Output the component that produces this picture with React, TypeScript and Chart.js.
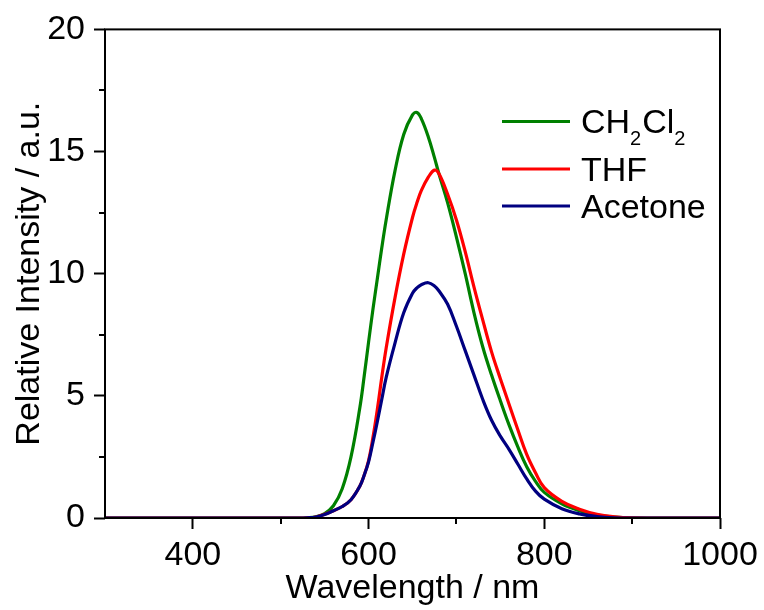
import React, { useEffect, useRef } from "react";
import { Chart, registerables } from "chart.js";

Chart.register(...registerables);

const wavelengths = [300, 400, 500, 520, 530, 540, 550, 560, 570, 580, 590, 595, 600, 605, 610, 615, 620, 630, 640, 650, 655, 660, 668, 675, 680, 690, 700, 710, 720, 730, 740, 750, 760, 770, 780, 790, 800, 820, 840, 860, 880, 900, 950, 1000];

const ch2cl2 = [0, 0, 0, 0, 0.01, 0.05, 0.18, 0.5, 1.2, 2.5, 4.5, 5.8, 7.2, 8.55, 9.8, 11.05, 12.2, 14.2, 15.7, 16.5, 16.6, 16.35, 15.6, 14.75, 14.1, 12.9, 11.5, 10.0, 8.4, 7.0, 5.85, 4.8, 3.8, 2.9, 2.1, 1.5, 1.05, 0.58, 0.3, 0.12, 0.04, 0.01, 0, 0];

const thf = [0, 0, 0, 0, 0.01, 0.04, 0.15, 0.3, 0.47, 0.75, 1.3, 1.75, 2.35, 3.3, 4.45, 5.75, 6.95, 9.0, 10.8, 12.3, 12.9, 13.4, 13.95, 14.24, 14.1, 13.25, 12.2, 10.9, 9.45, 8.1, 6.8, 5.7, 4.65, 3.6, 2.6, 1.85, 1.24, 0.68, 0.36, 0.15, 0.05, 0.01, 0, 0];

const acetone = [0, 0, 0, 0, 0.01, 0.04, 0.14, 0.3, 0.47, 0.75, 1.3, 1.75, 2.3, 3.1, 3.95, 4.85, 5.75, 7.15, 8.4, 9.2, 9.42, 9.55, 9.63, 9.5, 9.3, 8.75, 7.85, 6.85, 5.85, 4.85, 4.0, 3.35, 2.8, 2.2, 1.6, 1.1, 0.77, 0.38, 0.17, 0.06, 0.01, 0, 0, 0];

const xMajorTicks = [400, 600, 800, 1000];
const xMinorTicks = [500, 700, 900];
const yMajorTicks = [0, 5, 10, 15, 20];
const yMinorTicks = [2.5, 7.5, 12.5, 17.5];

const seriesNames = ["CH2Cl2", "THF", "Acetone"];
const seriesColors = ["#008000", "#ff0000", "#000080"];

const FONT = "'Liberation Sans', Arial, sans-serif";

const framePlugin = {
  id: "frame",
  afterDatasetsDraw(chart: any) {
    const { ctx, chartArea } = chart;
    const xs = chart.scales.x;
    const ys = chart.scales.y;
    ctx.save();
    ctx.strokeStyle = "#000";
    ctx.lineWidth = 2;
    ctx.strokeRect(chartArea.left, chartArea.top, chartArea.right - chartArea.left, chartArea.bottom - chartArea.top);
    ctx.beginPath();
    xMinorTicks.forEach((v) => {
      const px = Math.round(xs.getPixelForValue(v));
      ctx.moveTo(px, chartArea.bottom);
      ctx.lineTo(px, chartArea.bottom + 6);
    });
    yMinorTicks.forEach((v) => {
      const py = Math.round(ys.getPixelForValue(v));
      ctx.moveTo(chartArea.left, py);
      ctx.lineTo(chartArea.left - 6, py);
    });
    ctx.stroke();
    ctx.restore();
  },
};

const legendPlugin = {
  id: "customLegend",
  afterDraw(chart: any) {
    const { ctx } = chart;
    const lineX0 = 502;
    const lineX1 = 570;
    const textX = 581;
    const rows = [121.5, 169, 206];
    ctx.save();
    rows.forEach((y, i) => {
      ctx.strokeStyle = seriesColors[i];
      ctx.lineWidth = 3;
      ctx.beginPath();
      ctx.moveTo(lineX0, y);
      ctx.lineTo(lineX1, y);
      ctx.stroke();
      ctx.fillStyle = "#000";
      ctx.textBaseline = "alphabetic";
      ctx.textAlign = "left";
      const base = y + 11.5;
      if (seriesNames[i] === "CH2Cl2") {
        const parts: [string, boolean][] = [["CH", false], ["2", true], ["Cl", false], ["2", true]];
        let x = textX;
        parts.forEach(([t, sub]) => {
          ctx.font = sub ? `20px ${FONT}` : `34px ${FONT}`;
          ctx.fillText(t, x, sub ? base + 12 : base);
          x += ctx.measureText(t).width + (sub ? 1 : 0);
        });
      } else {
        ctx.font = `34px ${FONT}`;
        ctx.fillText(seriesNames[i], textX, base);
      }
    });
    ctx.restore();
  },
};

export default function App() {
  const ref = useRef<HTMLCanvasElement | null>(null);
  useEffect(() => {
    if (!ref.current) return;
    const mk = (vals: number[]) => wavelengths.map((w, i) => ({ x: w, y: vals[i] }));
    const chart = new Chart(ref.current, {
      type: "line",
      data: {
        datasets: [
          { label: seriesNames[2], data: mk(acetone), borderColor: seriesColors[2], order: 0 },
          { label: seriesNames[1], data: mk(thf), borderColor: seriesColors[1], order: 1 },
          { label: seriesNames[0], data: mk(ch2cl2), borderColor: seriesColors[0], order: 2 },
        ].map((d) => ({ ...d, borderWidth: 3.2, pointRadius: 0, fill: false, tension: 0.4 })),
      },
      options: {
        animation: false,
        responsive: false,
        layout: { padding: { left: 0, top: 29, right: 44, bottom: 0 } },
        plugins: { legend: { display: false }, tooltip: { enabled: false } },
        scales: {
          x: {
            type: "linear",
            min: 300,
            max: 1000,
            afterBuildTicks: (s: any) => {
              s.ticks = xMajorTicks.map((v) => ({ value: v }));
            },
            afterFit: (s: any) => {
              s.height = 92;
            },
            border: { display: false },
            grid: { drawOnChartArea: false, drawTicks: true, tickLength: 11, tickWidth: 2, tickColor: "#000", color: "#000" },
            ticks: { font: { family: FONT, size: 34 }, color: "#000", padding: 6, maxRotation: 0, callback: (v: any) => String(v) },
            title: { display: true, text: "Wavelength / nm", font: { family: FONT, size: 34 }, color: "#000", padding: { top: 0, bottom: 1 } },
          },
          y: {
            type: "linear",
            min: 0,
            max: 20,
            afterBuildTicks: (s: any) => {
              s.ticks = yMajorTicks.map((v) => ({ value: v }));
            },
            afterFit: (s: any) => {
              s.width = 105;
            },
            border: { display: false },
            grid: { drawOnChartArea: false, drawTicks: true, tickLength: 11, tickWidth: 2, tickColor: "#000", color: "#000" },
            ticks: { font: { family: FONT, size: 34 }, color: "#000", padding: 9, callback: (v: any) => String(v) },
            title: { display: true, text: "Relative Intensity / a.u.", font: { family: FONT, size: 34 }, color: "#000", padding: { top: 9, bottom: 0 } },
          },
        },
      },
      plugins: [framePlugin, legendPlugin],
    });
    return () => chart.destroy();
  }, []);
  return (
    <div style={{ position: "fixed", left: 0, top: 0, width: 764, height: 610, background: "#fff" }}>
      <canvas ref={ref} width={764} height={610} />
    </div>
  );
}
